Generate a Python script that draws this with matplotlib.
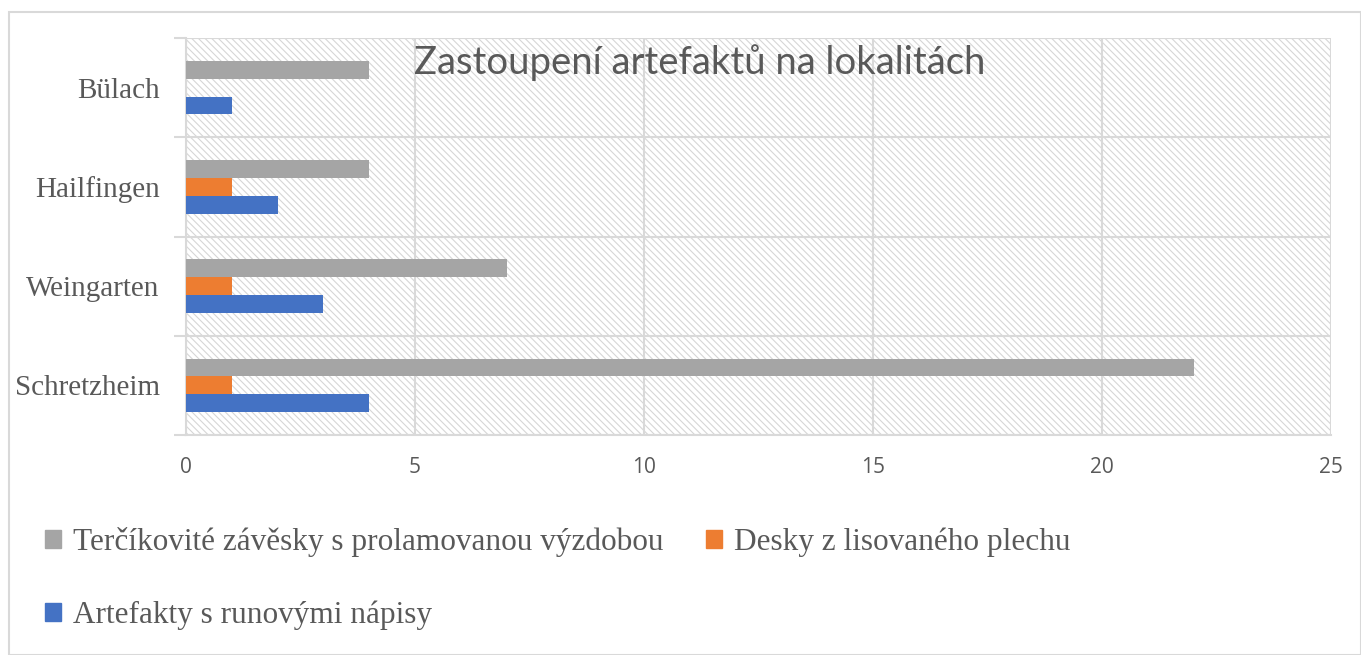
import matplotlib
matplotlib.use("Agg")
import matplotlib.pyplot as plt
from matplotlib.patches import Rectangle, Patch
import numpy as np

categories = ["Schretzheim", "Weingarten", "Hailfingen", "Bülach"]
series_names = ["Terčíkovité závěsky s prolamovanou výzdobou",
                "Desky z lisovaného plechu",
                "Artefakty s runovými nápisy"]
gray_vals = [22, 7, 4, 4]
orange_vals = [1, 1, 1, 0]
blue_vals = [4, 3, 2, 1]
x_ticks = [0, 5, 10, 15, 20, 25]
title = "Zastoupení artefaktů na lokalitách"

colors = ["#a5a5a5", "#ed7d31", "#4472c4"]
plt.rcParams["hatch.linewidth"] = 0.8
W, H = 1361, 655
fig = plt.figure(figsize=(W / 100, H / 100), dpi=100)
fig.patch.set_facecolor("white")

# outer border
fig.patches.append(Rectangle((9 / W, 0), 1 - 9 / W, 1 - 12 / H, transform=fig.transFigure,
                             fill=False, edgecolor="#d9d9d9", lw=1.5))

x0, x1, ytop, ybot = 186, 1331, 38, 435
ax = fig.add_axes([x0 / W, 1 - ybot / H, (x1 - x0) / W, (ybot - ytop) / H])
ax.set_xlim(0, 25)
ax.set_ylim(-0.5, len(categories) - 0.5)

# hatched background
ax.add_patch(Rectangle((0, 0), 1, 1, transform=ax.transAxes, facecolor="white",
                       edgecolor="#d6d6d6", hatch="\\\\\\\\\\", lw=0, zorder=0))

y = np.arange(len(categories))
h = 0.18
for vals, off, c in [(gray_vals, h, colors[0]), (orange_vals, 0, colors[1]), (blue_vals, -h, colors[2])]:
    ax.barh(y + off, vals, height=h, color=c, zorder=3)

ax.set_xticks(x_ticks)
ax.set_xticklabels([str(t) for t in x_ticks], fontsize=15, color="#595959", family="Open Sans")
ax.set_yticks(y)
ax.set_yticklabels(categories, fontsize=21, color="#595959", family="Liberation Serif")
ax.set_yticks(np.arange(-0.5, len(categories), 1.0), minor=True)
ax.tick_params(axis="y", which="major", length=0, pad=19)
ax.tick_params(axis="y", which="minor", length=9, color="#d9d9d9", width=1.5)
ax.tick_params(axis="x", length=0, pad=16)
ax.grid(axis="x", color="#d9d9d9", lw=1.5, zorder=1)
ax.grid(axis="y", which="minor", color="#d9d9d9", lw=1.5, zorder=1)
ax.set_axisbelow(True)
for s in ["top", "right"]:
    ax.spines[s].set_visible(False)
for s in ["left", "bottom"]:
    ax.spines[s].set_color("#d9d9d9")
    ax.spines[s].set_linewidth(1.5)

fig.text(700 / W, 1 - 63 / H, title, ha="center", va="center",
         fontsize=27.5, color="#595959", family="Lato", zorder=5)

handles = [Patch(color=colors[0], label=series_names[0]),
           Patch(color=colors[2], label=series_names[2]),
           Patch(color=colors[1], label=series_names[1])]
fig.legend(handles=handles, loc="upper left", bbox_to_anchor=(17 / W, 1 - 499 / H), ncol=2,
           frameon=False, prop={"family": "Liberation Serif", "size": 22.5},
           labelcolor="#595959", handlelength=0.5, handleheight=0.5, handletextpad=0.4,
           columnspacing=1.35, labelspacing=1.38)

fig.savefig("out.png", dpi=100)
